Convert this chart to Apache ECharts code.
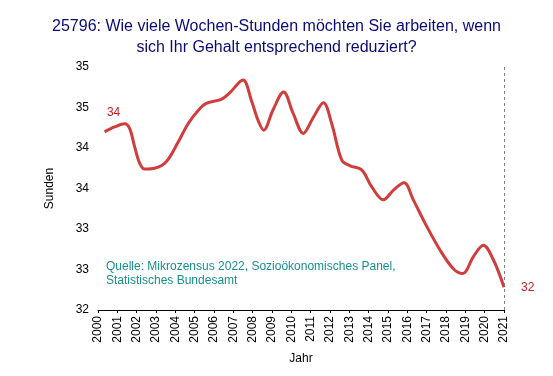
<!DOCTYPE html>
<html>
<head>
<meta charset="utf-8">
<script src="https://cdn.jsdelivr.net/npm/echarts@6/dist/echarts.min.js"></script>
<style>
    html, body { margin: 0; padding: 0; background: #fff; }
    #chart { width: 553px; height: 376px; }
</style>
</head>
<body>
<div id="chart"></div>
<script>
// Werte (Jahr, Stunden)
var years = [2000.34, 2000.86, 2001.38, 2001.64, 2001.90, 2002.16, 2002.41, 2002.93, 2003.53, 2004.14,
    2004.66, 2005.17, 2005.60, 2006.38, 2006.81, 2007.50, 2007.93, 2008.28, 2008.57, 2009.05,
    2009.60, 2010.09, 2010.62, 2011.14, 2011.66, 2012.09, 2012.61, 2013.04, 2013.64, 2014.16,
    2014.76, 2015.28, 2015.83, 2016.31, 2016.92, 2017.69, 2018.38, 2018.86, 2019.42, 2019.93,
    2020.45, 2021.00];
var hours = [34.20, 34.26, 34.30, 34.24, 34.01, 33.81, 33.74, 33.75, 33.83, 34.07,
    34.30, 34.46, 34.55, 34.60, 34.68, 34.84, 34.59, 34.34, 34.22, 34.47,
    34.69, 34.43, 34.18, 34.38, 34.56, 34.30, 33.85, 33.78, 33.73, 33.52,
    33.36, 33.48, 33.57, 33.36, 33.07, 32.74, 32.51, 32.45, 32.66, 32.80,
    32.62, 32.28];
var yTicks = [32, 32.5, 33, 33.5, 34, 34.5, 35];
var titleText = '25796: Wie viele Wochen-Stunden möchten Sie arbeiten, wenn\nsich Ihr Gehalt entsprechend reduziert?';
var sourceText = 'Quelle: Mikrozensus 2022, Sozioökonomisches Panel,\nStatistisches Bundesamt';

var font = 'Liberation Sans, Arial, sans-serif';

var lineData = [];
for (var i = 0; i < years.length; i++) {
    var point = { value: [years[i], hours[i]] };
    if (i === 0) {
        point.label = { show: true, position: 'top', offset: [9, -8] };
    } else if (i === years.length - 1) {
        point.label = { show: true, position: 'right', offset: [12, 0] };
    }
    lineData.push(point);
}

var chart = echarts.init(document.getElementById('chart'));
var option = {
    animation: false,
    title: {
        text: titleText,
        left: 'center',
        top: 11,
        textStyle: {
            fontFamily: font,
            fontSize: 16,
            fontWeight: 'normal',
            color: '#0a0a78',
            lineHeight: 21
        }
    },
    grid: {
        left: 98,
        right: 49,
        top: 67,
        bottom: 66
    },
    xAxis: {
        type: 'value',
        min: 2000,
        max: 2021,
        interval: 1,
        name: 'Jahr',
        nameLocation: 'middle',
        nameGap: 43,
        nameTextStyle: { fontFamily: font, fontSize: 12, color: '#000' },
        axisLine: { show: true, lineStyle: { color: '#000', width: 1 } },
        axisTick: { show: true, length: 3, lineStyle: { color: '#000' } },
        axisLabel: {
            rotate: 90,
            margin: 6,
            fontFamily: font,
            fontSize: 12,
            color: '#000',
            formatter: function (v) { return String(v); }
        },
        splitLine: { show: false }
    },
    yAxis: {
        type: 'value',
        min: yTicks[0],
        max: yTicks[yTicks.length - 1],
        interval: 0.5,
        name: 'Sunden',
        nameLocation: 'middle',
        nameGap: 42,
        nameTextStyle: { fontFamily: font, fontSize: 12, color: '#000' },
        axisLine: { show: false },
        axisTick: { show: false },
        axisLabel: {
            margin: 9,
            fontFamily: font,
            fontSize: 12,
            color: '#000',
            formatter: function (v) { return String(Math.round(v)); }
        },
        splitLine: { show: false }
    },
    graphic: [{
        type: 'text',
        left: 106,
        top: 260,
        style: {
            text: sourceText,
            font: '12px ' + font,
            fill: '#178f8f',
            lineHeight: 14
        }
    }],
    series: [{
        type: 'line',
        data: lineData,
        smooth: 0.35,
        symbol: 'circle',
        symbolSize: 0,
        showSymbol: true,
        lineStyle: { color: '#d13c3c', width: 3 },
        itemStyle: { color: '#d13c3c' },
        label: {
            show: false,
            fontFamily: font,
            fontSize: 12,
            color: '#c8202a',
            formatter: function (p) { return String(Math.round(p.value[1])); }
        },
        markLine: {
            silent: true,
            symbol: 'none',
            label: { show: false },
            lineStyle: { color: '#808080', type: [3, 3], width: 1 },
            data: [{ xAxis: 2021 }]
        }
    }]
};
chart.setOption(option);
</script>
</body>
</html>
